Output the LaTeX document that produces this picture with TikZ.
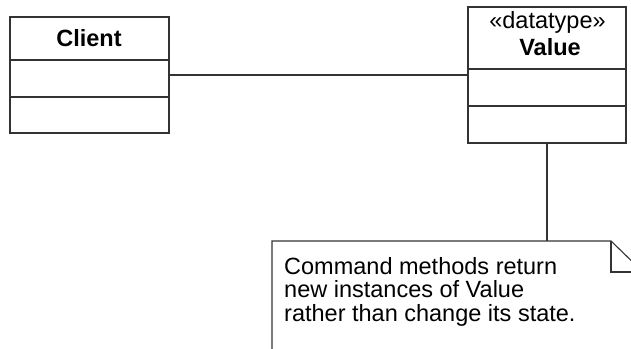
\documentclass[tikz,border=0pt]{standalone}
\usepackage{fontspec}
\setmainfont{Liberation Sans}
\begin{document}
\begin{tikzpicture}[x=1pt,y=-1pt,
  ln/.style={draw=black!80,line width=1.1pt},
  classbox/.style={ln,rectangle,inner sep=0pt},
  lbl/.style={inner sep=0pt,font=\fontsize{23.5}{28}\selectfont},
  blbl/.style={inner sep=0pt,font=\bfseries\fontsize{23.5}{28}\selectfont},
  notetext/.style={inner sep=0pt,anchor=base west,align=left,font=\fontsize{23.5}{23.5}\selectfont}]
\useasboundingbox (0,0) rectangle (631,348);
\clip (0,0) rectangle (631,348);
% Client
\node[classbox,minimum width=159pt,minimum height=116pt] (client) at (89.5,75) {};
\draw[ln] (10,60) -- (169,60);
\draw[ln] (10,97) -- (169,97);
\node[blbl,anchor=base] (clientname) at (89,46.5) {Client};
% Value
\node[classbox,minimum width=158pt,minimum height=136pt] (value) at (547,75) {};
\draw[ln] (468,69) -- (626,69);
\draw[ln] (468,106) -- (626,106);
\node[lbl,anchor=base] (stereo) at (547.5,28) {«datatype»};
\node[blbl,anchor=base] (valuename) at (550,55) {Value};
% Note
\coordinate (note) at (272,241);
\coordinate (fold) at (611,241);
\draw[ln] (272,380) -- (note) -- (fold) -- (643,272) -- (643,380);
\draw[ln] (fold) -- (611,272) -- (643,272);
\node[notetext] (notetxt) at (284,321) {Command methods return\\new instances of Value\\rather than change its state.};
% connectors
\draw[ln] (client.east) -- (value.west);
\draw[ln] (value.south) -- (value.south |- note);
\end{tikzpicture}
\end{document}
